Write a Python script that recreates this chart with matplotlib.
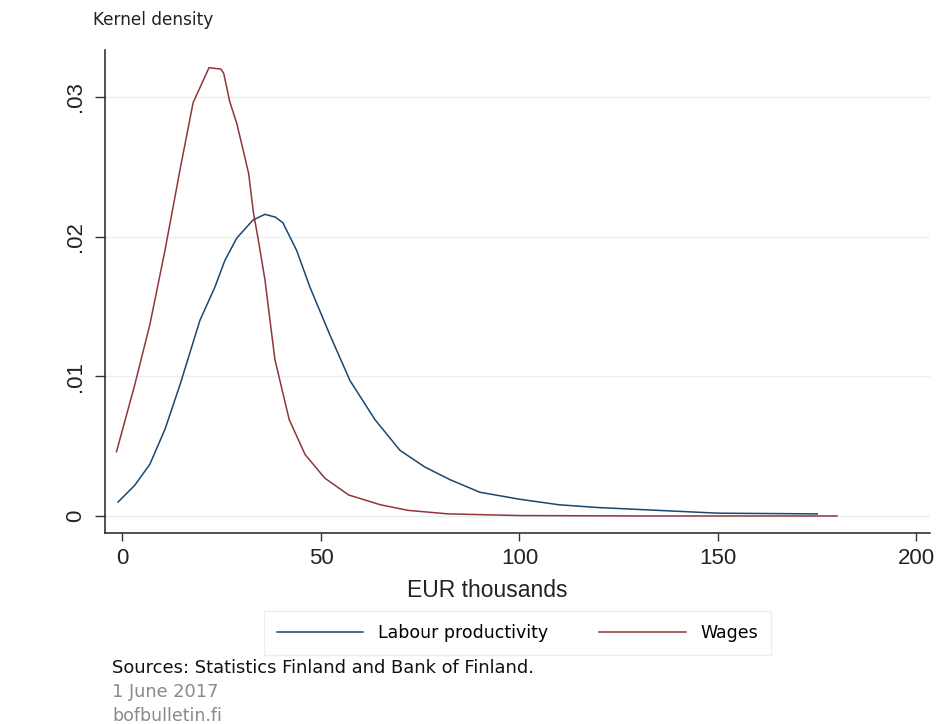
import matplotlib.pyplot as plt
import numpy as np

plt.rcParams['font.family'] = ['Liberation Sans', 'DejaVu Sans']

# kernel density estimates (EUR thousands, density)
prod_x = [-1.1, 3.1, 6.9, 10.7, 14.5, 19.5, 23.3, 25.8, 28.8, 32.9, 35.9, 38.5,
          40.4, 43.9, 47.2, 52.2, 57.3, 63.6, 69.9, 76.2, 82.5, 90, 100, 110,
          120, 135, 150, 175]
prod_y = [0.0010, 0.0022, 0.0037, 0.0062, 0.0094, 0.0140, 0.0164, 0.0183,
          0.0199, 0.0212, 0.0216, 0.0214, 0.0210, 0.0190, 0.0164, 0.0130,
          0.0097, 0.0069, 0.0047, 0.0035, 0.0026, 0.0017, 0.0012, 0.0008,
          0.0006, 0.0004, 0.0002, 0.00015]

wage_x = [-1.5, 3.1, 6.9, 10.7, 14.5, 17.8, 21.8, 24.8, 25.5, 27.0, 28.8,
          30.4, 31.8, 33.0, 34.2, 35.9, 38.4, 42, 46, 51, 57, 65, 72, 82,
          100, 130, 180]
wage_y = [0.0046, 0.0094, 0.0137, 0.0190, 0.0248, 0.0296, 0.0321, 0.0320,
          0.0317, 0.0297, 0.0281, 0.0262, 0.0245, 0.0217, 0.0198, 0.0169,
          0.0112, 0.0069, 0.0044, 0.0027, 0.0015, 0.0008, 0.0004, 0.00015,
          0.00003, 0.0, 0.0]

navy = '#1a476f'
maroon = '#90353b'
wide = ['DejaVu Sans']

fig = plt.figure(figsize=(9.45, 7.24), dpi=100)
ax = fig.add_axes([0.1111, 0.2638, 0.873, 0.667])

ax.plot(prod_x, prod_y, color=navy, lw=1.1, label='Labour productivity')
ax.plot(wage_x, wage_y, color=maroon, lw=1.1, label='Wages')

ax.set_xlim(-4.4, 203.4)
ax.set_ylim(-0.00122, 0.03336)
ax.set_xticks([0, 50, 100, 150, 200])
ax.set_yticks([0, 0.01, 0.02, 0.03])
ax.set_yticklabels(['0', '.01', '.02', '.03'], rotation=90, va='center')
ax.tick_params(axis='both', labelsize=16, width=1, color='#333333',
               labelcolor='#222222', direction='out')
ax.tick_params(axis='x', length=5.5, pad=5)
ax.tick_params(axis='y', length=7.5, pad=6)
ax.grid(axis='y', color='#e8f0f1', lw=1)
ax.set_axisbelow(True)
for s in ['top', 'right']:
    ax.spines[s].set_visible(False)
for s in ['left', 'bottom']:
    ax.spines[s].set_color('#222222')
    ax.spines[s].set_linewidth(1.1)

ax.set_xlabel('EUR thousands', fontsize=16.5, color='#222222', labelpad=9)
ax.xaxis.set_label_coords(0.463, -0.095)
fig.text(0.098, 0.972, 'Kernel density', fontsize=12.2, color='#222222',
         va='center', family=wide)

leg = ax.legend(loc='upper center', bbox_to_anchor=(0.5, -0.1615), ncol=2,
                prop={'family': wide, 'size': 12.5}, frameon=True,
                fancybox=False, handlelength=5.0, columnspacing=2.9,
                handletextpad=0.86, borderpad=0.75, borderaxespad=0)
leg.get_frame().set_edgecolor('#e3ecef')
leg.get_frame().set_linewidth(1)

fig.text(0.1185, 0.077, 'Sources: Statistics Finland and Bank of Finland.',
         fontsize=12.9, color='#111111', va='center', family=wide)
fig.text(0.1185, 0.044, '1 June 2017', fontsize=12.8, color='#8a8a8a',
         va='center', family=wide)
fig.text(0.1185, 0.011, 'bofbulletin.fi', fontsize=12.5, color='#8a8a8a',
         va='center', family=wide)

fig.savefig('out.png', dpi=100, facecolor='white')
